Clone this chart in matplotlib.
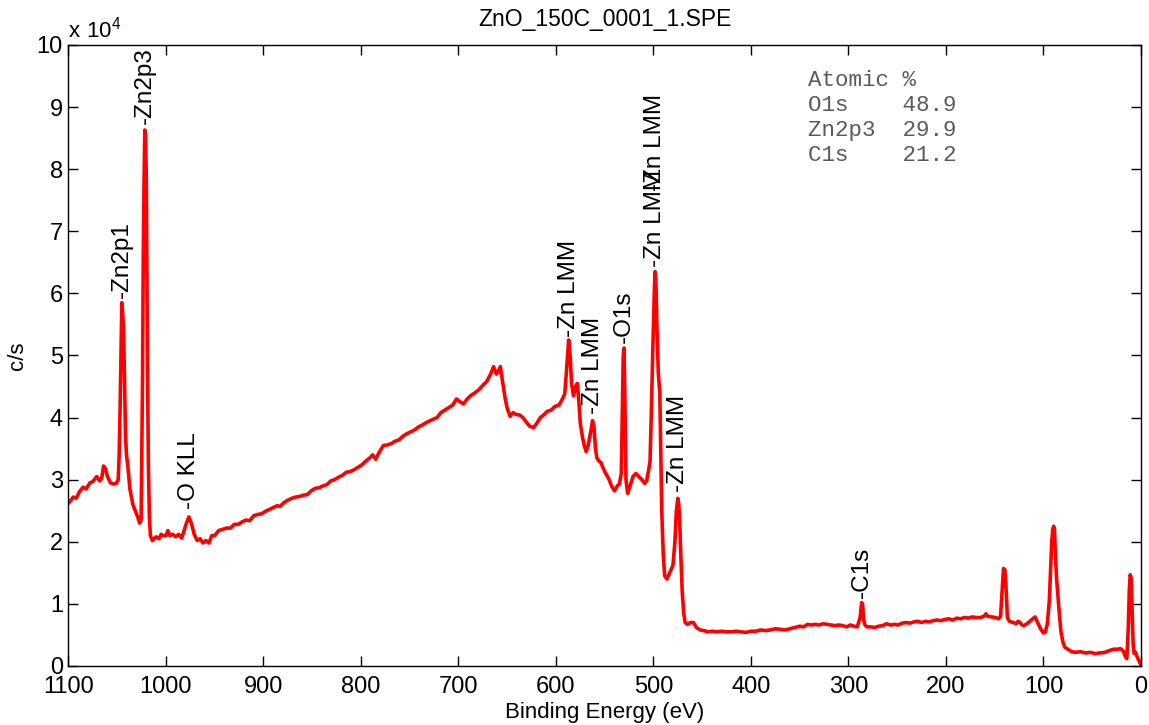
import matplotlib
matplotlib.use('Agg')
import matplotlib.pyplot as plt
from matplotlib.ticker import FuncFormatter, MultipleLocator

plt.rcParams['font.family'] = ['Liberation Sans', 'DejaVu Sans']
plt.rcParams['mathtext.fontset'] = 'custom'
plt.rcParams['mathtext.rm'] = 'Liberation Sans'

TITLE = 'ZnO_150C_0001_1.SPE'

# (binding energy eV, intensity x 10^4 c/s)
zn2p_region = [
    (1100, 2.62), (1098.5, 2.65), (1095, 2.72), (1092, 2.70), (1089, 2.80), (1085, 2.88),
    (1082, 2.85), (1078, 2.95), (1075, 2.97), (1071, 3.05), (1068, 2.98), (1066, 3.02),
    (1064, 3.22), (1062, 3.18), (1060, 3.05), (1057, 2.95), (1054, 2.93), (1051, 2.94),
    (1049, 3.00), (1048, 3.4), (1047, 4.2), (1046, 5.2), (1045.3, 5.85), (1044.5, 5.7),
    (1043.5, 5.4), (1042.5, 4.6), (1041.5, 3.7), (1040.5, 3.4), (1039, 3.2), (1037, 2.85),
    (1034, 2.6), (1031.5, 2.5), (1029, 2.4), (1027, 2.3), (1025.5, 2.35), (1024.8, 3.4),
    (1024, 4.7), (1023.3, 6.6), (1022.5, 7.8), (1021.7, 8.63), (1021, 8.5), (1020.2, 7.9),
    (1019.5, 6.2), (1018.8, 4.5), (1018, 3.2), (1017, 2.4), (1016, 2.1), (1014, 2.02),
    (1012, 2.05), (1010, 2.08), (1007, 2.05), (1005, 2.12), (1003, 2.10), (1000, 2.10),
    (998, 2.18), (996, 2.10), (993, 2.12), (990, 2.08), (987, 2.12), (984, 2.06),
    (982, 2.15), (979, 2.30), (976.5, 2.40), (974, 2.30), (971, 2.12), (968, 2.02),
    (965, 2.05), (962, 1.98), (959, 2.02), (956, 1.98), (953, 2.10), (950, 2.10),
]
background_rise = [
    (946, 2.18), (942, 2.20), (938, 2.22), (934, 2.22), (930, 2.28), (926, 2.28),
    (922, 2.32), (918, 2.35), (914, 2.34), (910, 2.42), (906, 2.44), (902, 2.45),
    (898, 2.49), (894, 2.52), (890, 2.55), (886, 2.58), (883, 2.57), (879, 2.63),
    (875, 2.67), (871, 2.70), (867, 2.72), (863, 2.73), (859, 2.75), (855, 2.76),
    (851, 2.82), (847, 2.86), (843, 2.87), (839, 2.90), (835, 2.92), (831, 2.98),
    (827, 3.00), (823, 3.04), (819, 3.07), (815, 3.12), (811, 3.13), (807, 3.16),
    (803, 3.20), (799, 3.24), (795, 3.30), (791, 3.35), (788, 3.40), (785, 3.33),
    (781, 3.45), (777, 3.55), (773, 3.56), (769, 3.58), (765, 3.62), (761, 3.64),
    (757, 3.70), (753, 3.74), (749, 3.77), (745, 3.80), (741, 3.85), (737, 3.88),
    (733, 3.92), (729, 3.95), (725, 3.98), (722, 4.00), (718, 4.08), (714, 4.12),
    (710, 4.16), (706, 4.20), (702, 4.30), (698, 4.25), (695, 4.22), (691, 4.30),
    (687, 4.36), (683, 4.40), (679, 4.45), (675, 4.52), (671, 4.58), (667, 4.70),
    (664, 4.82), (661, 4.70), (659, 4.75), (657, 4.82), (655, 4.60), (652, 4.30),
    (650, 4.15), (647, 4.02), (644, 4.08), (641, 4.05), (637, 4.04), (634, 4.00),
    (630, 3.92), (627, 3.86), (623, 3.84), (620, 3.90), (616, 4.00), (612, 4.05),
    (609, 4.10), (605, 4.12), (601, 4.18), (597, 4.20), (594, 4.28), (591, 4.38),
]
auger_o1s_region = [
    (589, 4.80), (587, 5.25), (585.5, 5.0), (584, 4.55), (582, 4.35), (580, 4.50),
    (578, 4.55), (576.5, 4.25), (575, 3.9), (573, 3.7), (571, 3.55), (569, 3.45),
    (567, 3.55), (564, 3.80), (562.5, 3.95), (561, 3.85), (559.5, 3.50), (558, 3.35),
    (556, 3.30), (554, 3.28), (552, 3.20), (549, 3.10), (546, 3.02), (543, 2.90),
    (540, 2.82), (537, 2.90), (535, 2.93), (533, 3.10), (532, 4.0), (531, 5.0),
    (530.2, 5.12), (529.3, 4.3), (528.2, 3.0), (526.5, 2.78), (524, 2.9), (521, 3.05),
    (518, 3.10), (515, 3.05), (512, 3.00), (509, 2.94), (507, 2.98), (505, 3.15),
    (503.5, 3.30), (502, 4.2), (500.5, 5.2), (499, 6.1), (498.3, 6.35), (497.5, 6.2),
    (496.5, 5.5), (495, 4.7), (493.5, 4.4), (492.5, 3.5), (491.5, 2.5), (490, 1.8),
    (488.5, 1.45), (486, 1.40), (484, 1.48), (482, 1.55), (480, 1.62), (478, 2.0),
    (476.5, 2.5), (475, 2.70), (474, 2.6), (473, 2.3), (472, 1.8), (470.5, 1.2),
    (469, 0.85), (467.5, 0.70), (465, 0.67), (462, 0.70), (459, 0.70), (456, 0.62),
]
low_be_region = [
    (452, 0.58), (448, 0.57), (444, 0.55), (440, 0.56), (435, 0.55), (430, 0.56),
    (425, 0.55), (420, 0.55), (415, 0.56), (410, 0.55), (405, 0.54), (400, 0.56),
    (395, 0.56), (390, 0.58), (385, 0.57), (380, 0.58), (375, 0.60), (370, 0.59),
    (365, 0.58), (360, 0.60), (355, 0.62), (350, 0.64), (346, 0.63), (342, 0.67),
    (338, 0.66), (334, 0.67), (330, 0.66), (326, 0.68), (322, 0.67), (318, 0.66),
    (314, 0.65), (310, 0.66), (306, 0.65), (302, 0.63), (298, 0.66), (294, 0.64),
    (291, 0.63), (288, 0.78), (286.5, 1.02), (285.5, 1.0), (284.5, 0.75), (283, 0.66),
    (281, 0.63), (277, 0.63), (273, 0.62), (269, 0.64), (265, 0.65), (261, 0.68),
    (257, 0.66), (253, 0.67), (249, 0.66), (245, 0.69), (241, 0.70), (237, 0.69),
    (233, 0.71), (229, 0.72), (225, 0.70), (221, 0.72), (217, 0.71), (213, 0.73),
    (209, 0.74), (205, 0.73), (201, 0.75), (197, 0.76), (193, 0.74), (189, 0.77),
    (185, 0.76), (181, 0.78), (177, 0.77), (173, 0.79), (169, 0.78), (165, 0.78),
    (161, 0.80), (159, 0.84), (157, 0.80), (153, 0.79), (149, 0.78), (146, 0.76),
    (144, 0.80), (142.5, 1.2), (141, 1.57), (139.5, 1.55), (138, 1.15), (137, 0.78),
    (135, 0.72), (131, 0.70), (128, 0.68), (126, 0.72), (124, 0.70), (122, 0.66),
    (120, 0.65), (117, 0.68), (114, 0.72), (111, 0.76), (108.5, 0.79), (106, 0.70),
    (103, 0.60), (100, 0.53), (98, 0.55), (96, 0.68), (94, 1.05), (92.5, 1.6),
    (91.5, 2.0), (90.5, 2.2), (89.5, 2.25), (88.7, 2.2), (87.8, 1.8), (86.5, 1.4),
    (85, 1.1), (83.5, 0.8), (82, 0.55), (80, 0.38), (78, 0.30), (75, 0.27),
    (71, 0.23), (67, 0.22), (62, 0.23), (57, 0.21), (52, 0.22), (47, 0.20),
    (42, 0.21), (37, 0.22), (32, 0.25), (28, 0.27), (24, 0.27), (21, 0.28),
    (18, 0.24), (16, 0.15), (14.5, 0.12), (13, 0.6), (12, 1.2), (11, 1.47),
    (10, 1.40), (9, 0.9), (8, 0.35), (7, 0.20), (5.5, 0.22), (4, 0.15),
    (2, 0.08), (0, 0.02),
]

# peak labels: name, binding energy, height where label starts (x 10^4)
peak_names = ['-Zn2p1', '-Zn2p3', '-O KLL', '-Zn LMM', '-Zn LMM', '-O1s', '-Zn LMM', '-Zn LMM', '-Zn LMM', '-C1s']
peak_be = [1045.4, 1021.7, 976.5, 586.7, 562.5, 530.2, 498.3, 498.3, 474.6, 285.8]
peak_y = [5.92, 8.72, 2.52, 5.3, 4.05, 5.2, 6.42, 7.65, 2.8, 1.1]

quant_names = ['O1s', 'Zn2p3', 'C1s']
quant_pct = [48.9, 29.9, 21.2]

points = zn2p_region + background_rise + auger_o1s_region + low_be_region
be = [p[0] for p in points]
cps = [p[1] * 1e4 for p in points]

fig = plt.figure(figsize=(11.49, 7.25), dpi=100)
ax = fig.add_axes([0.0596, 0.0814, 0.9334, 0.8566])

ax.plot(be, cps, color='red', lw=2.6)

ax.set_xlim(1100, 0)
ax.set_ylim(0, 1e5)
ax.xaxis.set_major_locator(MultipleLocator(100))
ax.yaxis.set_major_locator(MultipleLocator(1e4))
ax.yaxis.set_major_formatter(FuncFormatter(lambda v, p: '%d' % round(v / 1e4)))
ax.tick_params(direction='in', length=7, width=1, top=True, right=True, labelsize=17)
ax.tick_params(axis='x', pad=7)
ax.tick_params(axis='y', pad=4)
for s in ax.spines.values():
    s.set_linewidth(1)

for name, x, y in zip(peak_names, peak_be, peak_y):
    ax.text(x, y * 1e4, name, rotation=90, ha='center', va='bottom', fontsize=17.5)

lines = ['Atomic %'] + ['%-7s%.1f' % (n, v) for n, v in zip(quant_names, quant_pct)]
ax.text(0.6895, 0.96, '\n'.join(lines), transform=ax.transAxes, ha='left', va='top',
        family='Liberation Mono', fontsize=16.2, color='#5a5a5a', linespacing=1.25)

ax.text(0, 1.004, r'$\mathregular{x\ 10^4}$', transform=ax.transAxes, ha='left', va='bottom', fontsize=16)
ax.set_title(TITLE, fontsize=16.5, pad=14)
ax.set_xlabel('Binding Energy (eV)', fontsize=16, labelpad=3)
ax.set_ylabel('c/s', fontsize=16, labelpad=6)

fig.savefig('out.png', dpi=100)
